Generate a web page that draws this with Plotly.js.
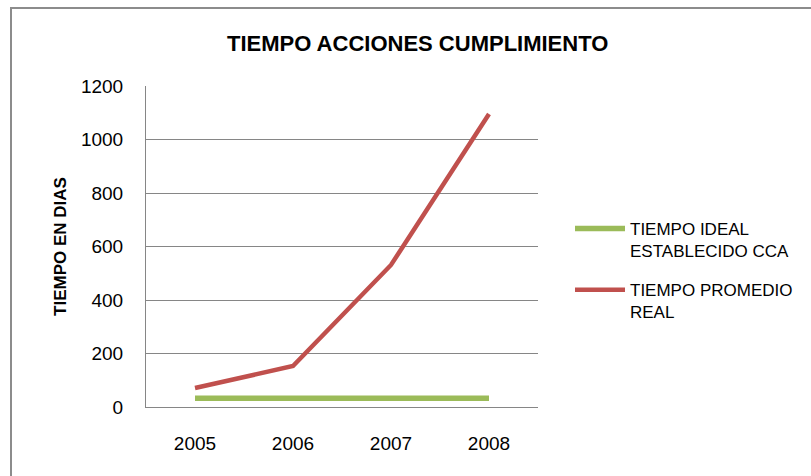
<!DOCTYPE html>
<html>
<head>
<meta charset="utf-8">
<script src="https://cdn.plot.ly/plotly-3.0.1.min.js"></script>
<style>html,body{margin:0;padding:0;background:#fff;}#chart{width:811px;height:476px;}</style>
</head>
<body>
<div id="chart"></div>
<script>
const years = ['2005', '2006', '2007', '2008'];
const tiempoIdeal = [33, 33, 33, 33];
const tiempoReal = [71, 153, 531, 1095];
const seriesNames = ['TIEMPO IDEAL<br>ESTABLECIDO CCA', 'TIEMPO PROMEDIO<br>REAL'];
const yTicks = [0, 200, 400, 600, 800, 1000, 1200];

const W = 811, H = 476;
const L = 146, R = 273, T = 86, B = 69;
const pw = W - L - R, ph = H - T - B;
const px = v => (v - L) / pw;
const py = v => (H - B - v) / ph;
const FONT = '"Liberation Sans", Arial, sans-serif';

const traces = [
  {x: years, y: tiempoIdeal, name: seriesNames[0], type: 'scatter', mode: 'lines',
   line: {color: '#9BBB59', width: 5.5}, legendgroup: 'a'},
  {x: years, y: tiempoReal, name: seriesNames[1], type: 'scatter', mode: 'lines',
   line: {color: '#C0504D', width: 4.5}, legendgroup: 'b'}
];

const layout = {
  width: W, height: H,
  margin: {l: L, r: R, t: T, b: B, pad: 0},
  paper_bgcolor: '#fff', plot_bgcolor: '#fff',
  font: {family: FONT, color: '#000'},
  title: {text: '<b>TIEMPO ACCIONES CUMPLIMIENTO</b>', font: {size: 22, color: '#000'},
          x: 0.515, xanchor: 'center', y: 1 - 43 / H, yanchor: 'middle'},
  xaxis: {type: 'category', range: [-0.5, 3.5], showgrid: false, showline: true,
          linecolor: '#868686', linewidth: 1, ticks: '', tickfont: {size: 19},
          ticklabelstandoff: 19, zeroline: false, fixedrange: true},
  yaxis: {range: [0, 1200], tickvals: yTicks, showgrid: true, gridcolor: '#868686',
          gridwidth: 1, showline: true, linecolor: '#868686', linewidth: 1, ticks: '',
          tickfont: {size: 19}, ticklabelstandoff: 18, zeroline: false,
          title: {text: '<b>TIEMPO EN DIAS</b>', font: {size: 17}, standoff: 9}},
  showlegend: true,
  legend: {x: px(570), xanchor: 'left', y: py(211), yanchor: 'top', font: {size: 17},
           valign: 'top', tracegroupgap: 14, itemwidth: 50, bgcolor: 'rgba(0,0,0,0)'},
  shapes: [
    {type: 'path', xref: 'paper', yref: 'paper',
     path: `M ${px(11)} ${py(H + 5)} L ${px(11)} ${py(8)} L ${px(W + 5)} ${py(8)}`,
     line: {color: '#8c8c8c', width: 2}}
  ]
};

Plotly.newPlot('chart', traces, layout, {displayModeBar: false, staticPlot: true});
</script>
</body>
</html>
